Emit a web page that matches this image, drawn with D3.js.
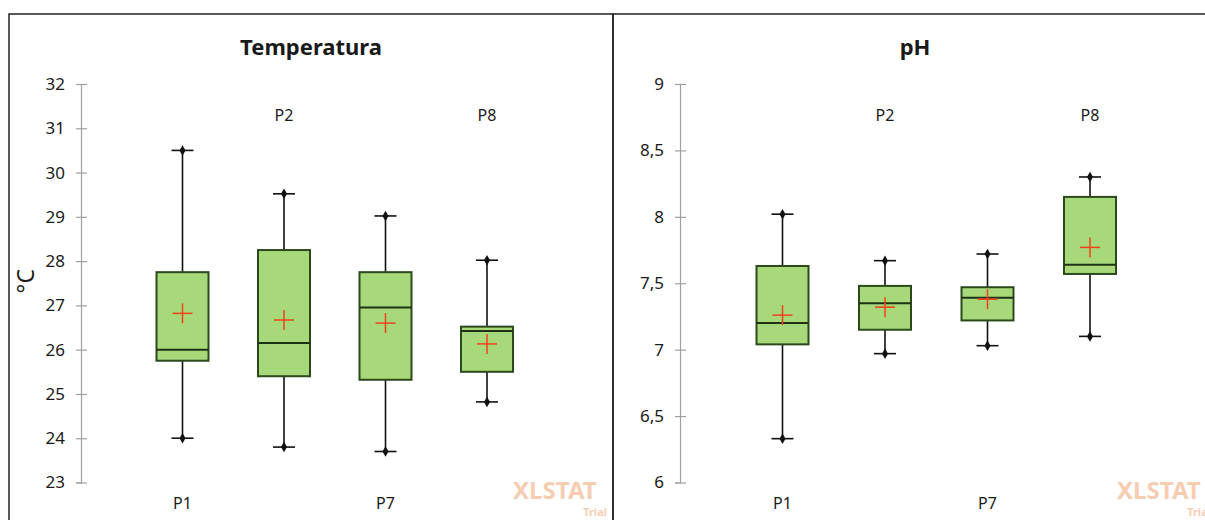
<!DOCTYPE html>
<html>
<head>
<meta charset="utf-8">
<script src="https://cdn.jsdelivr.net/npm/d3@7/dist/d3.min.js"></script>
<style>
  html, body { margin: 0; padding: 0; background: #ffffff; }
  svg { display: block; }
  text { font-family: "Noto Sans", "Open Sans", sans-serif; fill: #1a1a1a; }
</style>
</head>
<body>
<svg id="chart" width="1205" height="520"></svg>
<script>
// Sampling points, in display order
const categories = ["P1", "P2", "P7", "P8"];

// Temperature (°C) summary statistics per point
const tempMin    = [24.00, 23.80, 23.70, 24.82];
const tempQ1     = [25.75, 25.40, 25.32, 25.50];
const tempMedian = [26.00, 26.15, 26.95, 26.42];
const tempQ3     = [27.75, 28.25, 27.75, 26.52];
const tempMax    = [30.50, 29.52, 29.02, 28.02];
const tempMean   = [26.82, 26.67, 26.60, 26.13];
const tempTicks  = [23, 24, 25, 26, 27, 28, 29, 30, 31, 32];

// pH summary statistics per point
const phMin    = [6.33, 6.97, 7.03, 7.10];
const phQ1     = [7.04, 7.15, 7.22, 7.57];
const phMedian = [7.20, 7.35, 7.39, 7.64];
const phQ3     = [7.63, 7.48, 7.47, 8.15];
const phMax    = [8.02, 7.67, 7.72, 8.30];
const phMean   = [7.26, 7.32, 7.38, 7.77];
const phTicks  = [6, 6.5, 7, 7.5, 8, 8.5, 9];

const svg = d3.select("#chart");
const locale = d3.formatLocale({ decimal: ",", thousands: ".", grouping: [3], currency: ["", ""] });
const fmt = v => Number.isInteger(v) ? String(v) : locale.format(".1f")(v);

const panels = [
  {
    title: "Temperatura", unit: "°C",
    left: 9, right: 613, axisX: 81, plotRight: 588.5,
    ticks: tempTicks,
    min: tempMin, q1: tempQ1, med: tempMedian, q3: tempQ3, max: tempMax, mean: tempMean
  },
  {
    title: "pH", unit: null,
    left: 613, right: 1217, axisX: 680, plotRight: 1192.5,
    ticks: phTicks,
    min: phMin, q1: phQ1, med: phMedian, q3: phQ3, max: phMax, mean: phMean
  }
];

const yTop = 84, yBottom = 482.5;
const boxW = 52, capW = 22, crossHalf = 10;

panels.forEach((p, pi) => {
  const g = svg.append("g");
  const clipId = "clip" + pi;
  svg.append("clipPath").attr("id", clipId)
    .append("rect").attr("x", p.left).attr("y", 14).attr("width", p.right - p.left).attr("height", 520);

  const y = d3.scaleLinear()
    .domain(d3.extent(p.ticks))
    .range([yBottom, yTop]);
  const x = d3.scalePoint()
    .domain(categories)
    .range([p.axisX, p.plotRight])
    .padding(1);

  // Watermark
  const wm = g.append("g").attr("clip-path", `url(#${clipId})`);
  wm.append("text")
    .attr("x", p.left + 504).attr("y", 499)
    .attr("font-size", 24).attr("font-weight", "bold")
    .style("fill", "#f7cdb2")
    .text("XLSTAT");
  wm.append("text")
    .attr("x", p.left + 598).attr("y", 516)
    .attr("text-anchor", "end")
    .attr("font-size", 11).attr("font-weight", "bold")
    .style("fill", "#f7cdb2")
    .text("Trial");

  // Title
  g.append("text")
    .attr("x", (p.left + p.right) / 2).attr("y", 55)
    .attr("text-anchor", "middle")
    .attr("font-size", 22).attr("font-weight", "bold")
    .text(p.title);

  // Unit label
  if (p.unit) {
    g.append("text")
      .attr("transform", `translate(34, ${(yTop + yBottom) / 2 - 2}) rotate(-90)`)
      .attr("text-anchor", "middle")
      .attr("font-size", 23)
      .text(p.unit);
  }

  // Y axis
  const axis = d3.axisLeft(y).tickValues(p.ticks).tickFormat(fmt).tickSize(5).tickPadding(11);
  const ag = g.append("g").attr("transform", `translate(${p.axisX},0)`).call(axis);
  ag.select(".domain").attr("stroke", "#a0a0a0").attr("stroke-width", 1.2);
  ag.selectAll(".tick line").attr("x2", -5).attr("x1", 6).attr("stroke", "#a0a0a0").attr("stroke-width", 1.2);
  ag.selectAll(".tick text").attr("font-size", 17).style("fill", "#1a1a1a")
    .attr("font-family", '"Noto Sans", sans-serif');

  // Category labels, alternating bottom / top
  g.selectAll(".cat").data(categories).join("text")
    .attr("x", d => x(d))
    .attr("y", (d, i) => i % 2 === 0 ? 509 : 121)
    .attr("text-anchor", "middle")
    .attr("font-size", 16)
    .text(d => d);

  const rows = categories.map((c, i) => ({
    c, min: p.min[i], q1: p.q1[i], med: p.med[i], q3: p.q3[i], max: p.max[i], mean: p.mean[i]
  }));

  const bx = g.selectAll(".box").data(rows).join("g");

  // Whiskers
  bx.append("line")
    .attr("x1", d => x(d.c)).attr("x2", d => x(d.c))
    .attr("y1", d => y(d.max)).attr("y2", d => y(d.q3))
    .attr("stroke", "#111").attr("stroke-width", 1.6);
  bx.append("line")
    .attr("x1", d => x(d.c)).attr("x2", d => x(d.c))
    .attr("y1", d => y(d.q1)).attr("y2", d => y(d.min))
    .attr("stroke", "#111").attr("stroke-width", 1.6);

  // Whisker caps with end markers
  ["min", "max"].forEach(k => {
    bx.append("line")
      .attr("x1", d => x(d.c) - capW / 2).attr("x2", d => x(d.c) + capW / 2)
      .attr("y1", d => y(d[k])).attr("y2", d => y(d[k]))
      .attr("stroke", "#111").attr("stroke-width", 1.6);
    bx.append("path")
      .attr("d", d3.symbol(d3.symbolDiamond, 32))
      .attr("transform", d => `translate(${x(d.c)},${y(d[k])})`)
      .attr("fill", "#111");
  });

  // Boxes
  bx.append("rect")
    .attr("x", d => x(d.c) - boxW / 2)
    .attr("y", d => y(d.q3))
    .attr("width", boxW)
    .attr("height", d => y(d.q1) - y(d.q3))
    .attr("fill", "#a7d97a")
    .attr("stroke", "#2b4a1c").attr("stroke-width", 2);

  // Medians
  bx.append("line")
    .attr("x1", d => x(d.c) - boxW / 2).attr("x2", d => x(d.c) + boxW / 2)
    .attr("y1", d => y(d.med)).attr("y2", d => y(d.med))
    .attr("stroke", "#1f3314").attr("stroke-width", 2);

  // Means
  bx.append("line")
    .attr("x1", d => x(d.c) - crossHalf).attr("x2", d => x(d.c) + crossHalf)
    .attr("y1", d => y(d.mean)).attr("y2", d => y(d.mean))
    .attr("stroke", "#f2401e").attr("stroke-width", 1.5);
  bx.append("line")
    .attr("x1", d => x(d.c)).attr("x2", d => x(d.c))
    .attr("y1", d => y(d.mean) - crossHalf).attr("y2", d => y(d.mean) + crossHalf)
    .attr("stroke", "#f2401e").attr("stroke-width", 1.5);
});

// Panel frames
panels.forEach(p => {
  svg.append("rect")
    .attr("x", p.left).attr("y", 14)
    .attr("width", p.right - p.left).attr("height", 520)
    .attr("fill", "none").attr("stroke", "#222").attr("stroke-width", 1.5);
});
</script>
</body>
</html>
